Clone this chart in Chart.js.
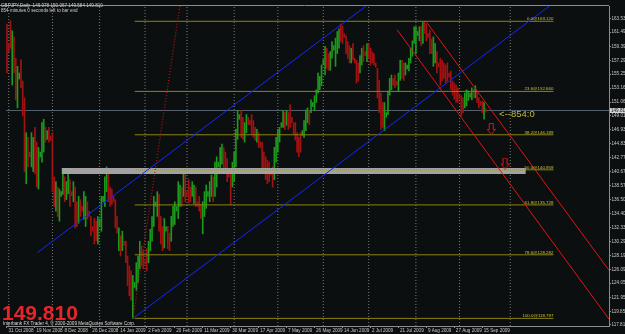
<!DOCTYPE html>
<html><head><meta charset="utf-8">
<script src="https://cdn.jsdelivr.net/npm/chart.js@4.4.1/dist/chart.umd.min.js"></script>
<style>html,body{margin:0;padding:0;background:#0c0f0f;}#wrap{width:625px;height:334px;}</style>
</head><body><div id="wrap"><canvas id="c" width="625" height="334"></canvas></div>
<script>
// ---- data (bar index 0 = 31 Oct 2008, daily bars incl. Sunday bars) ----
const highs = [162.7,159.8,163.2,161.7,160.8,157.6,156.4,155.4,157.4,154.2,151.7,146.5,145.8,143.6,146.5,145.8,147.3,145.1,144.3,143.6,
148.0,148.5,147.3,146.8,147.3,146.0,146.5,139.9,139.2,138.4,138.1,137.7,140.7,139.9,139.2,141.0,139.5,137.7,139.2,138.4,
136.2,137.0,136.5,135.5,137.7,137.0,136.2,134.8,134.0,132.5,133.7,133.3,134.0,133.6,137.0,137.0,139.9,141.4,141.0,138.4,
138.1,137.0,136.5,134.0,132.3,131.1,131.8,130.3,130.3,128.1,126.6,125.9,125.2,124.2,127.1,128.1,130.3,129.6,128.9,127.4,
129.2,130.3,132.1,134.0,137.0,136.2,137.7,137.3,134.0,132.5,133.7,132.5,132.5,131.5,134.0,135.5,136.2,135.5,139.2,138.7,
138.4,140.4,140.7,137.7,139.5,138.4,139.2,138.7,138.4,136.2,137.0,135.8,136.2,137.7,138.7,137.7,139.2,140.2,139.9,142.1,
142.9,142.1,144.3,144.8,144.3,143.6,142.6,140.7,140.9,142.1,143.6,147.0,149.8,149.2,149.8,148.8,148.0,149.2,148.8,148.3,
149.2,148.3,147.3,147.0,146.5,145.1,145.1,143.6,142.9,142.4,142.1,140.9,141.4,144.3,145.8,147.0,147.3,148.0,149.8,149.5,
149.8,149.5,150.7,148.8,148.0,148.0,146.5,145.8,146.5,146.8,148.3,149.9,150.2,149.8,151.4,151.0,152.0,152.9,155.4,154.9,
156.6,157.4,159.4,159.1,158.3,158.6,160.1,159.5,160.6,161.6,162.0,162.7,162.4,161.3,161.0,160.1,159.5,159.1,159.8,157.6,
157.3,156.9,158.0,159.1,159.5,158.6,159.8,159.8,159.1,158.6,158.3,156.9,156.1,154.3,152.4,151.0,151.0,149.5,152.7,154.6,
155.1,154.6,155.1,154.2,155.4,157.3,157.3,156.9,156.9,156.6,157.6,159.1,160.2,162.3,162.3,161.6,162.3,162.4,163.0,163.12,
162.7,161.3,161.8,160.5,160.8,159.8,158.6,156.9,157.6,157.3,156.9,156.6,156.9,155.4,155.7,154.2,153.9,153.6,153.2,152.2,
152.0,151.7,152.4,152.9,152.7,152.4,153.2,153.0,153.5,152.7,151.7,151.2,151.2,151.0,150.067];
const lows = [155.4,158.6,159.1,153.6,155.4,151.4,150.2,154.5,153.2,149.0,140.7,138.9,141.4,142.9,141.4,140.7,140.4,138.4,138.1,142.9,
142.1,143.6,145.1,145.5,145.1,145.3,137.7,135.5,134.8,134.0,133.3,137.0,137.3,136.2,136.5,137.4,135.5,137.1,136.2,132.3,
132.5,133.0,134.0,134.8,133.6,132.5,133.6,134.0,131.1,131.8,129.9,130.4,129.9,132.5,131.8,136.2,135.5,137.7,136.2,135.5,
135.8,136.2,132.3,131.5,128.9,128.1,128.9,129.7,127.1,123.7,122.2,121.5,118.797,123.4,123.0,124.1,126.2,126.6,126.2,126.9,
125.9,127.1,128.9,130.3,132.5,135.5,134.0,131.8,129.9,128.9,129.3,131.8,129.2,128.9,130.3,132.5,132.8,134.8,133.7,135.5,
135.5,137.0,136.2,137.0,136.0,136.2,137.0,135.9,135.5,135.5,134.8,133.7,131.4,134.0,135.2,137.0,136.2,137.0,136.2,137.0,
138.4,141.4,140.6,141.8,140.6,140.9,139.2,139.9,135.8,138.4,139.2,141.4,145.5,148.5,145.8,145.5,145.1,146.5,147.7,147.7,
146.2,145.8,145.4,145.1,144.3,144.3,140.6,140.6,139.5,138.9,139.2,140.2,138.4,139.5,142.1,143.6,145.1,147.3,147.3,147.0,
147.6,147.0,147.3,148.0,146.2,145.4,143.6,142.9,143.6,146.1,145.8,146.8,148.0,147.7,149.5,150.4,149.8,151.0,152.4,152.9,
153.5,156.6,155.1,156.1,155.8,155.8,157.6,158.8,156.4,158.3,159.1,160.1,159.8,160.7,158.3,157.6,156.9,156.9,157.3,156.9,
153.9,154.2,155.4,156.6,157.1,158.0,157.1,157.6,156.6,156.9,156.6,156.3,151.7,149.5,147.0,147.3,146.8,148.8,149.2,152.1,
152.9,153.6,153.2,153.6,152.7,154.3,154.6,154.3,155.1,156.0,155.7,156.9,157.9,159.8,158.3,161.0,160.2,159.5,159.8,161.3,
160.2,160.7,158.3,158.3,156.4,156.9,155.4,156.3,153.6,154.3,154.6,153.9,154.2,154.8,152.9,152.1,151.5,151.0,151.0,151.6,
149.0,149.5,150.2,150.5,151.3,151.8,151.4,151.7,151.7,151.0,150.2,150.6,149.5,148.5,149.584];
const ups = [0,0,0,1,0,0,1,1,0,0,0,1,0,0,1,1,0,0,1,1, 1,1,0,1,0,0,0,0,1,0,1,1,1,0,1,1,0,0,1,0,
0,1,0,0,1,1,0,0,0,0,0,0,1,1,1,1,1,1,0,0, 0,0,0,0,1,0,1,0,0,0,0,0,1,1,1,1,1,0,0,0,
0,1,1,1,1,1,1,0,0,0,1,1,0,0,1,1,1,1,1,1, 0,1,0,0,0,0,1,1,0,0,0,0,1,1,1,1,1,1,0,1,
1,1,1,1,0,0,0,0,0,1,1,1,1,1,0,0,1,1,0,0, 0,0,0,1,0,0,0,0,0,0,0,0,0,1,1,1,1,1,1,0,
1,0,0,0,0,0,0,0,0,1,1,1,1,0,1,1,1,1,1,1, 1,1,1,0,0,1,1,1,1,1,1,0,0,0,0,0,0,1,0,0,
0,0,1,1,0,0,1,0,0,0,0,0,0,0,0,0,1,1,1,1, 1,0,0,0,1,1,0,0,1,1,1,1,1,1,1,1,1,0,1,0,
0,0,0,0,1,1,0,0,0,0,0,0,0,0,0,0,0,0,0,0, 0,0,1,1,1,1,1,0,1,0,0,0,0,1,0];

const dateLabels = ['31 Oct 2008','19 Nov 2008','8 Dec 2008','26 Dec 2008','14 Jan 2009','2 Feb 2009','20 Feb 2009','11 Mar 2009','30 Mar 2009','17 Apr 2009','7 May 2009','26 May 2009','14 Jun 2009','2 Jul 2009','21 Jul 2009','9 Aug 2009','27 Aug 2009','15 Sep 2009'];
const dateIdx = [0,16,32,48,64,80,96,112,128,144,160,176,192,208,224,240,256,272];
const monthIdx = [1,26,53,79,103,130,155,181,207,234,259,288];
const priceTicks = [163.530,161.490,159.390,157.290,155.250,153.160,151.060,149.010,146.930,144.830,142.770,140.670,138.570,136.500,134.400,132.330,130.290,128.190,126.090,124.050,121.950,119.850,117.810];

const fibNames = ['0.0','23.6','38.2','50.0','61.8','78.6','100.0'];
const fibLevels = [163.120,152.660,146.189,140.959,135.728,128.282,118.797];
const fibSpan = [73.1, 312.7];
const zoneSpan = [31.2, 296.9];
const zonePrices = [141.24, 140.35];
const bidPrice = 149.810;
const header = ['GBPJPY,Daily  149.978 150.067 149.584 149.810', '854 minutes 0 seconds left to bar end'];
// trend lines: [startIndex, startPrice, endIndex, endPrice]
const blueUpper = [17.4, 128.61, 205.5, 165.40];
const blueLower = [72.1, 118.80, 310.6, 165.44];
const redUpper = [240.2, 162.95, 344.5, 125.97];
const redLower = [223.2, 161.86, 344.5, 118.69];
const darkRedDots = [72.1, 118.80, 98.9, 165.40];
const arrowPts = [[277.1, 147.06], [285.0, 141.90]];
const noteText = '<--854:0';
const notePos = [281.6, 149.19];
const xRange = [-0.57, 344.5];
const yRange = [117.66, 165.40];

// ---- build ----
const seg = a => [{x:a[0],y:a[1]},{x:a[2],y:a[3]}];
const bars = highs.map((h,i)=>({x:i,y:[lows[i],h]}));
const GREEN='#1c9a1c', RED='#a31212';
const gridPts = [];
monthIdx.forEach(m=>{gridPts.push({x:m,y:yRange[0]},{x:m,y:yRange[1]},{x:m,y:null});});
const fibPts = [];
fibLevels.forEach(l=>{fibPts.push({x:fibSpan[0],y:l},{x:fibSpan[1],y:l},{x:fibSpan[1],y:null});});

function makeArrow(){
  const c=document.createElement('canvas');c.width=9;c.height=12;
  const g=c.getContext('2d');g.strokeStyle='#e01818';g.lineWidth=1;
  g.beginPath();g.moveTo(2.5,0.5);g.lineTo(6.5,0.5);g.lineTo(6.5,6.5);g.lineTo(8.5,6.5);
  g.lineTo(4.5,11.5);g.lineTo(0.5,6.5);g.lineTo(2.5,6.5);g.closePath();g.stroke();return c;
}
const arrowImg = makeArrow();

const lineDs = (data, color, order, extra) => Object.assign({type:'line', data, borderColor:color, borderWidth:1, pointRadius:0, fill:false, spanGaps:false, order}, extra||{});

const datasets = [
  lineDs(gridPts,'#7e7e7e',30,{borderDash:[1,2]}),
  lineDs([{x:xRange[0],y:bidPrice},{x:xRange[1],y:bidPrice}],'#56626c',25),
  {type:'bar', data:bars, backgroundColor:bars.map((b,i)=>ups[i]?GREEN:RED), barThickness:1, order:20},
  lineDs([{x:zoneSpan[0],y:zonePrices[0]},{x:zoneSpan[1],y:zonePrices[0]}],'rgba(0,0,0,0)',12,{borderWidth:0}),
  lineDs([{x:zoneSpan[0],y:zonePrices[1]},{x:zoneSpan[1],y:zonePrices[1]}],'rgba(0,0,0,0)',11,{borderWidth:0, fill:'-1', backgroundColor:'#a2a2a2'}),
  lineDs(fibPts,'#8a8410',10),
  lineDs([{x:fibSpan[0],y:fibLevels[3]},{x:zoneSpan[1],y:fibLevels[3]}],'#e0dc20',9,{borderDash:[1,1]}),
  lineDs(seg(darkRedDots),'#b01414',5,{borderDash:[1,2],borderWidth:1.3}),
  lineDs(seg(blueUpper),'#1428ff',4),
  lineDs(seg(blueLower),'#1428ff',4),
  lineDs(seg(redUpper),'#e41414',3),
  lineDs(seg(redLower),'#e41414',3),
  {type:'line', data:arrowPts.map(p=>({x:p[0],y:p[1]})), showLine:false, pointStyle:arrowImg, pointRadius:5, order:1}
];

const tickFont = {family:'Liberation Sans', size:4.6};
const overlay = {
  id:'overlay',
  afterDraw(chart){
    const {ctx, chartArea:a, scales:{x,y}} = chart;
    ctx.save();
    ctx.strokeStyle='#8c8c8c';ctx.lineWidth=1;
    ctx.beginPath();ctx.moveTo(0,a.top-0.5);ctx.lineTo(a.right,a.top-0.5);ctx.stroke();
    ctx.font='4.4px "Liberation Sans"';ctx.fillStyle='#cdc43a';ctx.textAlign='right';ctx.textBaseline='alphabetic';
    fibLevels.forEach((lv,k)=>ctx.fillText(fibNames[k]+'@'+lv.toFixed(3), x.getPixelForValue(fibSpan[1]), y.getPixelForValue(lv)-1.2));
    ctx.font='9.5px "Liberation Sans"';ctx.fillStyle='#c2ba3a';ctx.textAlign='left';ctx.textBaseline='middle';
    ctx.fillText(noteText, x.getPixelForValue(notePos[0]), y.getPixelForValue(notePos[1]));
    ctx.font='4.6px "Liberation Sans"';ctx.fillStyle='#cfcfcf';ctx.textBaseline='top';
    ctx.fillText(header[0],1,3);ctx.fillText(header[1],1,8.5);
    ctx.font='bold 21px "Liberation Sans"';ctx.fillStyle='#e2262c';ctx.textBaseline='alphabetic';
    ctx.fillText(bidPrice.toFixed(3),2,320);
    ctx.font='4.6px "Liberation Sans"';ctx.fillStyle='#dcdcdc';
    ctx.fillText('Interbank FX Trader 4, \u00a9 2000-2009 MetaQuotes Software Corp.',3,324.5);
    const by=y.getPixelForValue(bidPrice);
    ctx.fillStyle='#d4d4d4';ctx.fillRect(a.right+1,by-2.5,15,5);
    ctx.fillStyle='#202020';ctx.font='4.6px "Liberation Sans"';ctx.textBaseline='middle';
    ctx.fillText(bidPrice.toFixed(3),a.right+2,by);
    ctx.restore();
  }
};

new Chart(document.getElementById('c'),{
  type:'line',
  data:{datasets},
  options:{
    responsive:false, animation:false, devicePixelRatio:1, events:[],
    layout:{padding:{top:2,left:0,right:0,bottom:0}},
    plugins:{legend:{display:false},tooltip:{enabled:false}},
    scales:{
      x:{type:'linear',min:xRange[0],max:xRange[1],offset:false,
        grid:{display:true,drawOnChartArea:false,drawTicks:true,tickLength:2,color:'#8c8c8c',offset:false},
        border:{color:'#8c8c8c'},
        afterBuildTicks:s=>{s.ticks=dateIdx.map(v=>({value:v}));},
        afterFit:s=>{s.height=8;},
        ticks:{autoSkip:false,maxRotation:0,minRotation:0,align:'start',padding:0,labelOffset:1.5,color:'#c8c8c8',font:tickFont,
          callback:(v,i)=>dateLabels[i]}
      },
      y:{type:'linear',position:'right',min:yRange[0],max:yRange[1],beginAtZero:false,
        grid:{display:true,drawOnChartArea:false,drawTicks:true,tickLength:2,color:'#8c8c8c'},
        border:{color:'#8c8c8c'},
        afterBuildTicks:s=>{s.ticks=priceTicks.map(v=>({value:v}));},
        afterFit:s=>{s.width=16;},
        ticks:{padding:0.5,color:'#c8c8c8',font:tickFont,callback:v=>Number(v).toFixed(3)}
      }
    }
  },
  plugins:[overlay]
});
</script></body></html>
